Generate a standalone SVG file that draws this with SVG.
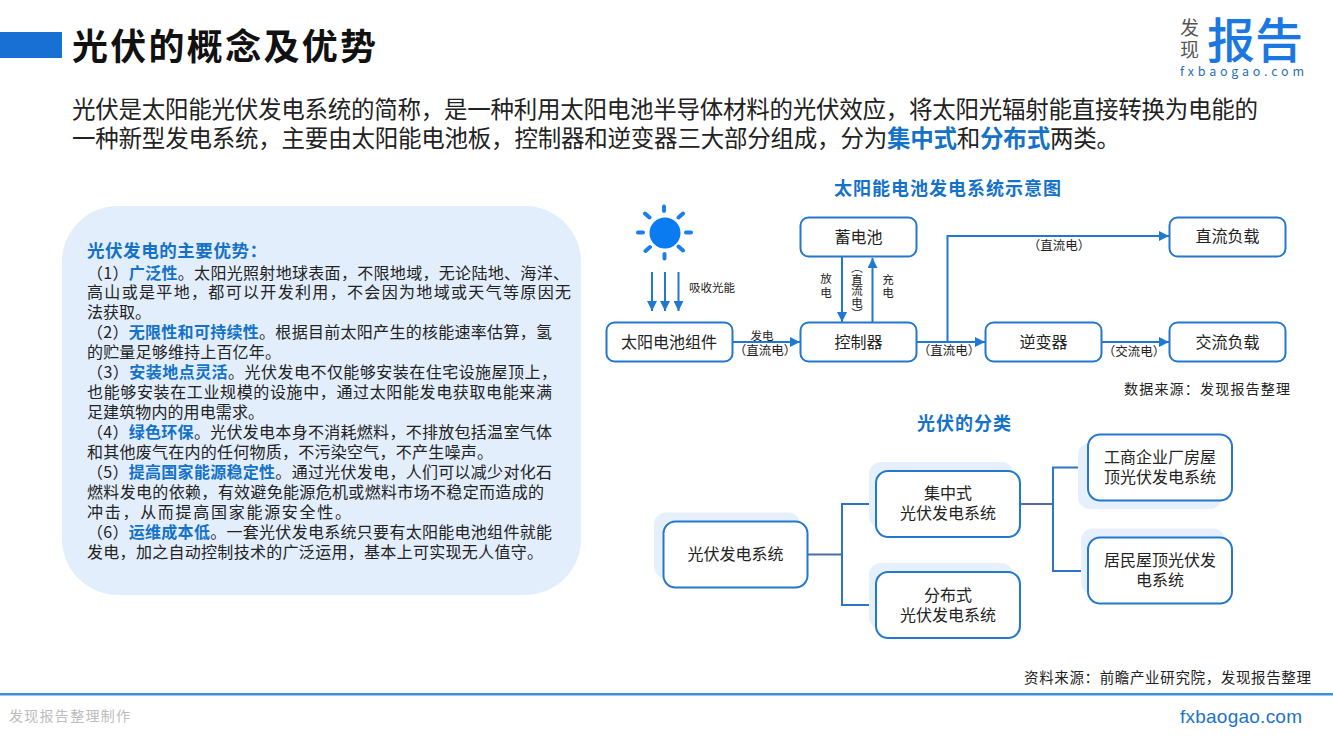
<svg xmlns="http://www.w3.org/2000/svg" width="1333" height="750" viewBox="0 0 1333 750">
<defs>
<marker id="ah" markerUnits="userSpaceOnUse" markerWidth="11" markerHeight="10" refX="10" refY="5" orient="auto"><path d="M0 0L10 5L0 10Z" fill="#1F78D1"/></marker>
</defs>
<style>
text{font-family:"Noto Sans CJK SC","Noto Sans",sans-serif;fill:#222}
.b{font-weight:700;fill:#1472C8}
.node{fill:#fff;stroke:#2478CC;stroke-width:2}
.shadow{fill:#E5F0FC}
.n{font-size:16px;text-anchor:middle}
.l{font-size:11.5px;text-anchor:middle}
.lp{font-size:12.5px;text-anchor:middle}
.body{font-size:16px}
.p{font-size:23.5px}
.c{fill:none;stroke:#1F78D1;stroke-width:2}
.c2{fill:none;stroke:#2E74C4;stroke-width:2}
.stem{fill:none;stroke:#4F6DA5;stroke-width:2}
.ray{stroke:#1A7FEA;stroke-width:4;stroke-linecap:round}
</style>
<rect width="1333" height="750" fill="#fff"/>
<rect x="0" y="32" width="62" height="26" fill="#1870D5"/>
<text x="72" y="60" font-size="36" font-weight="700" style="fill:#111" textLength="304">光伏的概念及优势</text>
<g id="logo">
<text x="1180" y="35" font-size="19" style="fill:#555">发</text>
<text x="1180" y="57" font-size="19" style="fill:#555">现</text>
<text x="1207" y="58" font-size="48" font-weight="500" style="fill:#1A78E0">报告</text>
<text x="1180" y="76" font-size="12.5" style="fill:#2A6FB5" textLength="124">fxbaogao.com</text>
</g>
<text class="p" x="72" y="118" textLength="1186">光伏是太阳能光伏发电系统的简称，是一种利用太阳电池半导体材料的光伏效应，将太阳光辐射能直接转换为电能的</text>
<text class="p" x="72" y="147" textLength="1048">一种新型发电系统，主要由太阳能电池板，控制器和逆变器三大部分组成，分为<tspan class="b">集中式</tspan>和<tspan class="b">分布式</tspan>两类。</text>
<g id="advantages">
<rect x="62" y="206" width="519" height="389" rx="56" fill="#E3EEFC"/>
<text x="87" y="257" font-size="17.5" class="b" textLength="180">光伏发电的主要优势：</text>
<text class="body" x="87" y="279" textLength="482">（1）<tspan class="b">广泛性</tspan>。太阳光照射地球表面，不限地域，无论陆地、海洋、</text>
<text class="body" x="87" y="298" textLength="484">高山或是平地，都可以开发利用，不会因为地域或天气等原因无</text>
<text class="body" x="87" y="318" textLength="64">法获取。</text>
<text class="body" x="87" y="338" textLength="465">（2）<tspan class="b">无限性和可持续性</tspan>。根据目前太阳产生的核能速率估算，氢</text>
<text class="body" x="87" y="358" textLength="194">的贮量足够维持上百亿年。</text>
<text class="body" x="87" y="378" textLength="470">（3）<tspan class="b">安装地点灵活</tspan>。光伏发电不仅能够安装在住宅设施屋顶上，</text>
<text class="body" x="87" y="398" textLength="465">也能够安装在工业规模的设施中，通过太阳能发电获取电能来满</text>
<text class="body" x="87" y="418" textLength="177">足建筑物内的用电需求。</text>
<text class="body" x="87" y="438" textLength="465">（4）<tspan class="b">绿色环保</tspan>。光伏发电本身不消耗燃料，不排放包括温室气体</text>
<text class="body" x="87" y="458" textLength="406">和其他废气在内的任何物质，不污染空气，不产生噪声。</text>
<text class="body" x="87" y="478" textLength="465">（5）<tspan class="b">提高国家能源稳定性</tspan>。通过光伏发电，人们可以减少对化石</text>
<text class="body" x="87" y="498" textLength="457">燃料发电的依赖，有效避免能源危机或燃料市场不稳定而造成的</text>
<text class="body" x="87" y="518" textLength="264">冲击，从而提高国家能源安全性。</text>
<text class="body" x="87" y="538" textLength="465">（6）<tspan class="b">运维成本低</tspan>。一套光伏发电系统只要有太阳能电池组件就能</text>
<text class="body" x="87" y="558" textLength="456">发电，加之自动控制技术的广泛运用，基本上可实现无人值守。</text>
</g>
<text x="834" y="195" font-size="18" class="b" textLength="227">太阳能电池发电系统示意图</text>
<text x="917" y="430" font-size="18" class="b" textLength="94">光伏的分类</text>
<g id="sun">
<circle cx="665" cy="233" r="15.5" fill="#0A7BF0"/>
<path class="ray" d="M664 206.500V211M664.500 254V258.500M638 232.500H643M686 232.500H691M645 213.500L649.500 217.500M683 213.500L678.500 217.500M645.500 251L650 247M683 250.500L678.500 246.500"/>
</g>
<g id="connectors">
<path class="c" marker-end="url(#ah)" d="M652 272V311"/>
<path class="c" marker-end="url(#ah)" d="M665 272V311"/>
<path class="c" marker-end="url(#ah)" d="M678.500 272V311"/>
<path class="c" marker-end="url(#ah)" d="M732 342H800"/>
<path class="c" marker-end="url(#ah)" d="M842 257V322"/>
<path class="c" marker-end="url(#ah)" d="M872.500 322V258"/>
<path class="c" marker-end="url(#ah)" d="M917 342H985"/>
<path class="c" marker-end="url(#ah)" d="M947.500 342V236H1169"/>
<path class="c" marker-end="url(#ah)" d="M1101 342H1169"/>
<path class="stem" d="M808 554.500H842"/>
<path class="c2" d="M876 504H842V605H876"/>
<path class="stem" d="M1020 504H1053"/>
<path class="c2" d="M1088 467.500H1053V571H1088"/>
</g>
<g id="n-panel"><rect class="node" x="606.500" y="322.500" width="126" height="39" rx="8"/><text class="n" x="669" y="348">太阳电池组件</text></g>
<g id="n-battery"><rect class="node" x="800.500" y="217.500" width="116" height="39" rx="8"/><text class="n" x="858.500" y="243">蓄电池</text></g>
<g id="n-controller"><rect class="node" x="800.500" y="322.500" width="116" height="39" rx="8"/><text class="n" x="858.500" y="348">控制器</text></g>
<g id="n-inverter"><rect class="node" x="985.500" y="322.500" width="116" height="39" rx="8"/><text class="n" x="1043.500" y="348">逆变器</text></g>
<g id="n-dcload"><rect class="node" x="1169.500" y="217.500" width="116" height="39" rx="8"/><text class="n" x="1227.500" y="242">直流负载</text></g>
<g id="n-acload"><rect class="node" x="1169.500" y="322.500" width="116" height="39" rx="8"/><text class="n" x="1227.500" y="348">交流负载</text></g>
<g id="labels">
<text class="l" x="712" y="292">吸收光能</text>
<text class="l" x="762" y="340">发电</text>
<text class="lp" x="765" y="355">（直流电）</text>
<text class="l" x="826" y="283">放</text><text class="l" x="826" y="297">电</text>
<text class="l" x="888" y="284">充</text><text class="l" x="888" y="297">电</text>
<text font-size="11.5" x="857" y="262" style="writing-mode:vertical-rl">（直流电）</text>
<text class="lp" x="1059" y="250">（直流电）</text>
<text class="lp" x="949" y="355">（直流电）</text>
<text class="lp" x="1134" y="356">（交流电）</text>
<text x="1124" y="394" font-size="14" textLength="166">数据来源：发现报告整理</text>
</g>
<g id="n-pv"><rect class="shadow" x="654" y="512.500" width="146" height="66" rx="12"/><rect class="node" x="663.500" y="521.500" width="144" height="66" rx="12"/><text class="n" x="735.500" y="560">光伏发电系统</text></g>
<g id="n-central"><rect class="shadow" x="869" y="462" width="144" height="66" rx="12"/><rect class="node" x="876" y="471" width="144" height="66" rx="12"/><text class="n" x="948" y="499">集中式</text><text class="n" x="948" y="519">光伏发电系统</text></g>
<g id="n-dist"><rect class="shadow" x="869" y="563" width="144" height="66" rx="12"/><rect class="node" x="876" y="572" width="144" height="66" rx="12"/><text class="n" x="948" y="601">分布式</text><text class="n" x="948" y="621">光伏发电系统</text></g>
<g id="n-ci"><rect class="shadow" x="1078" y="443" width="144" height="66" rx="12"/><rect class="node" x="1088" y="434.500" width="144" height="66" rx="12"/><text class="n" x="1160" y="463">工商企业厂房屋</text><text class="n" x="1160" y="483">顶光伏发电系统</text></g>
<g id="n-res"><rect class="shadow" x="1081" y="528.500" width="144" height="66" rx="12"/><rect class="node" x="1088" y="537.500" width="144" height="66" rx="12"/><text class="n" x="1160" y="566">居民屋顶光伏发</text><text class="n" x="1160" y="586">电系统</text></g>
<text x="1024" y="683" font-size="14.5" textLength="287">资料来源：前瞻产业研究院，发现报告整理</text>
<rect x="0" y="693" width="1333" height="2.500" fill="#3F8FDC"/>
<text x="9" y="721" font-size="14" style="fill:#BDBDBD" textLength="121">发现报告整理制作</text>
<text x="1180" y="723" font-size="19" style="fill:#1E73C8;font-family:'Liberation Sans',sans-serif" textLength="122">fxbaogao.com</text>
</svg>
